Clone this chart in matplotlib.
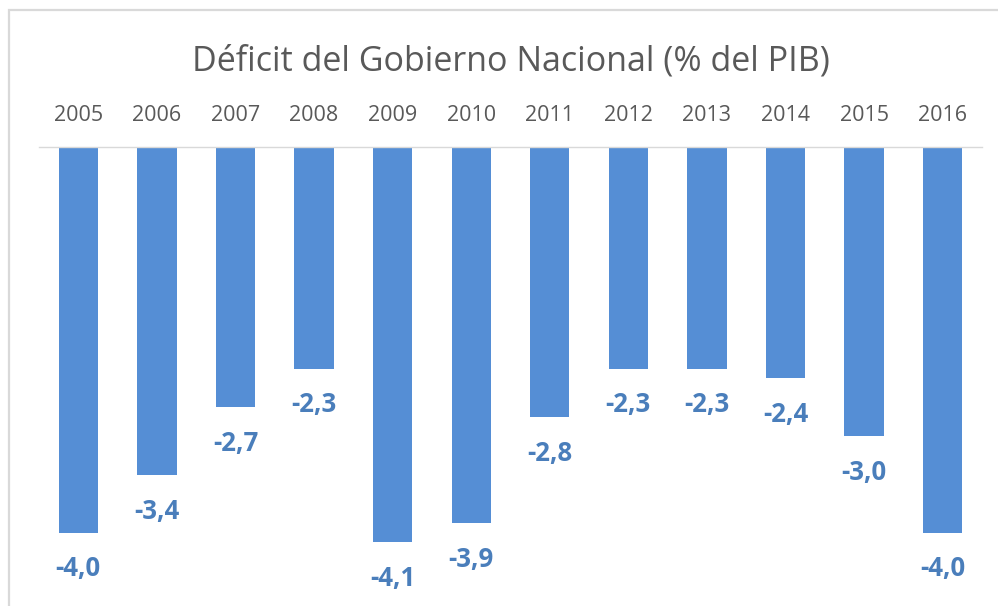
import matplotlib.pyplot as plt
import numpy as np
from matplotlib.patches import Rectangle

# Datos
anios = ['2005', '2006', '2007', '2008', '2009', '2010',
         '2011', '2012', '2013', '2014', '2015', '2016']
deficit = [-4.0, -3.4, -2.7, -2.3, -4.1, -3.9,
           -2.8, -2.3, -2.3, -2.4, -3.0, -4.0]

plt.rcParams['font.family'] = ['Open Sans', 'DejaVu Sans']

W, H = 998, 606
fig = plt.figure(figsize=(W / 100, H / 100), dpi=100)

# marco gris del gráfico
fig.patches.append(Rectangle((9 / W, -0.1), 1.2, (H - 10) / H + 0.1,
                             transform=fig.transFigure, fill=False,
                             edgecolor='#D9D9D9', linewidth=1.6))

# área de trazado (en píxeles)
x0, x1 = 39, 982
y_top, y_bot = 147, 581
ax = fig.add_axes([x0 / W, (H - y_bot) / H, (x1 - x0) / W, (y_bot - y_top) / H])

x = np.arange(len(anios))
ax.bar(x, deficit, width=0.5, color='#558ED5')
ax.set_xlim(-0.5, len(anios) - 0.5)
ax.set_ylim(-4.5, 0)

for s in ['left', 'right', 'bottom']:
    ax.spines[s].set_visible(False)
ax.spines['top'].set_color('#D9D9D9')
ax.spines['top'].set_linewidth(1)

ax.xaxis.tick_top()
ax.set_xticks(x)
ax.set_xticklabels(anios, fontsize=15.5, color='#595959')
ax.tick_params(axis='x', length=0, pad=15)
ax.set_yticks([])

for xi, v in zip(x, deficit):
    ax.annotate(f'{v:.1f}'.replace('.', ','), (xi, v), xytext=(0, -26),
                textcoords='offset points', ha='center', va='center',
                fontsize=18.5, fontweight='bold', color='#4A7EBB')

fig.text(0.5 * (x0 + x1) / W, 1 - 62 / H, 'Déficit del Gobierno Nacional (% del PIB)',
         ha='center', va='center', fontsize=24.5, color='#595959')

fig.savefig('out.png', dpi=100)
